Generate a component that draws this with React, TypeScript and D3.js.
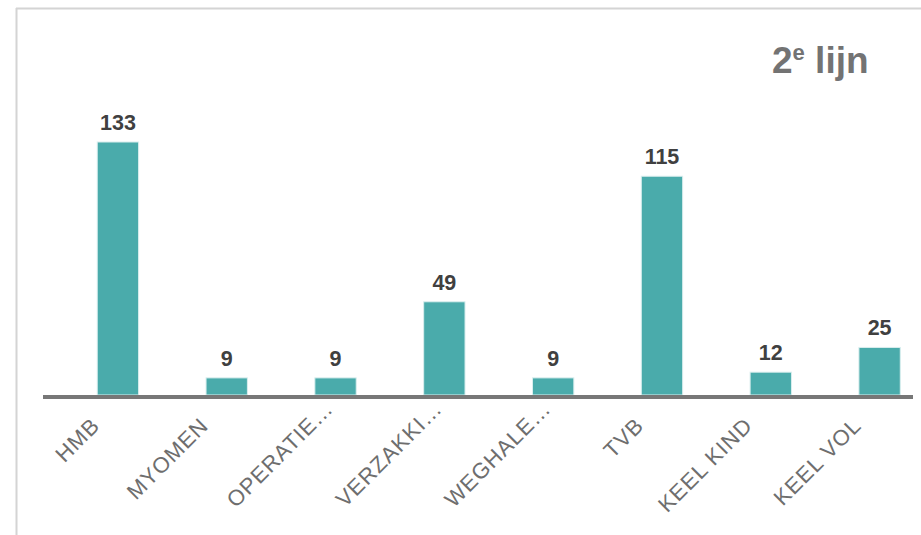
import React from "react";
import * as d3 from "d3";

const categories = ["HMB", "MYOMEN", "OPERATIE…", "VERZAKKI…", "WEGHALE…", "TVB", "KEEL KIND", "KEEL VOL"];
const values = [133, 9, 9, 49, 9, 115, 12, 25];
const titleMain = "2";
const titleSup = "e";
const titleRest = " lijn";

const W = 921;
const H = 535;
const FONT = "'Liberation Sans', Arial, sans-serif";

export default function App() {
  const x = d3.scaleBand<string>().domain(categories).range([63.5, 934]).paddingInner(0.62).paddingOuter(0.31);
  const y = d3.scaleLinear().domain([0, 133]).range([395, 142]);
  const baseY = y(0);

  return (
    <svg width={W} height={H} style={{ position: "absolute", left: 0, top: 0 }}>
      <rect x={0} y={0} width={W} height={H} fill="#ffffff" />
      <line x1={16} y1={8.5} x2={W} y2={8.5} stroke="#d4d4d4" strokeWidth={2} />
      <line x1={16.5} y1={8} x2={16.5} y2={H} stroke="#d4d4d4" strokeWidth={2} />
      <text x={772} y={73} fontFamily={FONT} fontWeight="bold" fontSize={37} fill="#737373">
        {titleMain}
        <tspan fontSize={22} dy={-13}>{titleSup}</tspan>
        <tspan fontSize={37} dy={13}>{titleRest}</tspan>
      </text>
      {categories.map((c, i) => {
        const bx = x(c)!;
        const bw = x.bandwidth();
        const v = values[i];
        return (
          <g key={c}>
            <rect x={bx} y={y(v)} width={bw} height={baseY - y(v)} fill="#4aabab" stroke="#d9eeee" strokeWidth={1} />
            <text x={bx + bw / 2} y={y(v) - 12} textAnchor="middle" fontFamily={FONT} fontWeight="bold" fontSize={21.5} fill="#404040">
              {v}
            </text>
          </g>
        );
      })}
      <line x1={43} y1={baseY + 2} x2={913} y2={baseY + 2} stroke="#777777" strokeWidth={4} />
      {categories.map((c) => {
        const cx = x(c)! + x.bandwidth() / 2;
        const truncated = c.endsWith("…");
        const ax = truncated ? cx - 1 : cx - 17;
        const ay = truncated ? baseY + 15 : baseY + 32;
        return (
          <text
            key={c}
            transform={`translate(${ax},${ay}) rotate(-45)`}
            textAnchor="end"
            fontFamily={FONT}
            fontSize={22}
            letterSpacing={0.9}
            fill="#6e6e6e"
          >
            {c}
          </text>
        );
      })}
    </svg>
  );
}
